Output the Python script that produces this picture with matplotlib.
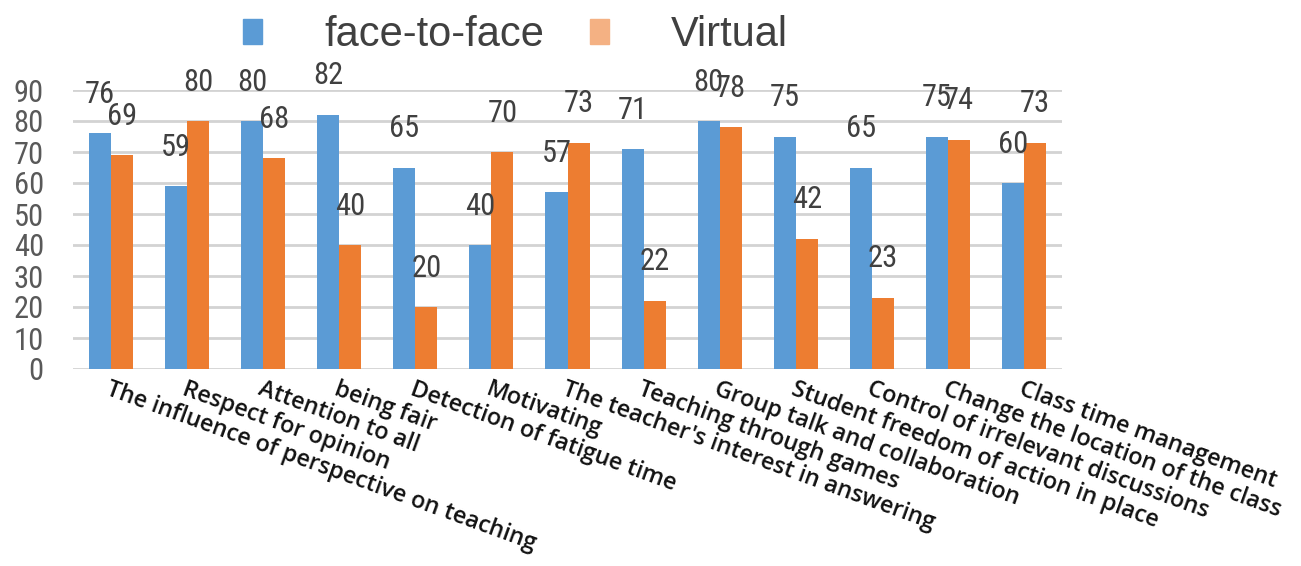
import matplotlib
matplotlib.use("Agg")
import matplotlib.pyplot as plt
import matplotlib.patches as mpatches
from matplotlib import font_manager as fm
import numpy as np

categories = [
    "The influence of perspective on teaching",
    "Respect for opinion",
    "Attention to all",
    "being fair",
    "Detection of fatigue time",
    "Motivating",
    "The teacher's interest in answering",
    "Teaching through games",
    "Group talk and collaboration",
    "Student freedom of action in place",
    "Control of irrelevant discussions",
    "Change the location of the class",
    "Class time management",
]
face_to_face = [76, 59, 80, 82, 65, 40, 57, 71, 80, 75, 65, 75, 60]
virtual = [69, 80, 68, 40, 20, 70, 73, 22, 78, 42, 23, 74, 73]
yticks = [0, 10, 20, 30, 40, 50, 60, 70, 80, 90]

BLUE = "#5B9BD5"
ORANGE = "#ED7D31"
ORANGE_LEG = "#F4B183"

_names = {f.name for f in fm.fontManager.ttflist}
def pick(cands):
    out = [c for c in cands if c in _names]
    return out + ["DejaVu Sans"]

NUM_FONT = pick(["Roboto Condensed", "Liberation Sans Narrow", "PT Sans Narrow", "Carlito"])
LBL_FONT = pick(["Open Sans", "Noto Sans"])
LEG_FONT = pick(["Liberation Sans"])

fig = plt.figure(figsize=(13.01, 5.66), dpi=100)
ax = fig.add_axes([73/1301, 1-369/566, (1062-73)/1301, (369-90)/566])

x = np.arange(len(categories))
w = 0.29
b1 = ax.bar(x - w/2, face_to_face, w, color=BLUE, zorder=3, label="face-to-face")
b2 = ax.bar(x + w/2, virtual, w, color=ORANGE, zorder=3, label="Virtual")

for bars, vals in ((b1, face_to_face), (b2, virtual)):
    for r, v in zip(bars, vals):
        ax.annotate(str(v), (r.get_x() + r.get_width()/2, v), xytext=(0, 28),
                    textcoords="offset points", ha="center", va="center",
                    fontsize=22, color="#404040", family=NUM_FONT,
                    annotation_clip=False, zorder=5)

ax.set_xlim(-0.5, len(categories) - 0.5)
ax.set_ylim(0, 90)
ax.set_yticks(yticks)
ax.set_yticklabels([str(t) for t in yticks], fontsize=22, color="#595959", family=NUM_FONT)
ax.tick_params(axis="y", length=0, pad=21)
ax.yaxis.grid(True, color="#d3d3d3", linewidth=2, zorder=0)
ax.set_axisbelow(True)
for s in ax.spines.values():
    s.set_visible(False)

ax.set_xticks(x)
ax.set_xticklabels(categories, rotation=-20, ha="left", va="top",
                   rotation_mode="anchor", fontsize=16.8, color="#111111",
                   family=LBL_FONT, fontweight="semibold")
ax.tick_params(axis="x", length=0, pad=6)

h1 = mpatches.Patch(color=BLUE, label="face-to-face")
h2 = mpatches.Patch(color=ORANGE_LEG, label="Virtual")
fig.legend(handles=[h1, h2], loc="upper left", bbox_to_anchor=(243/1301, 1-15/566),
           ncol=2, frameon=False, prop={"family": LEG_FONT, "size": 30},
           labelcolor="#404040", handlelength=0.45, handleheight=0.55,
           handletextpad=1.5, columnspacing=1.1, borderpad=0, borderaxespad=0)

fig.savefig("out.png", dpi=100)
